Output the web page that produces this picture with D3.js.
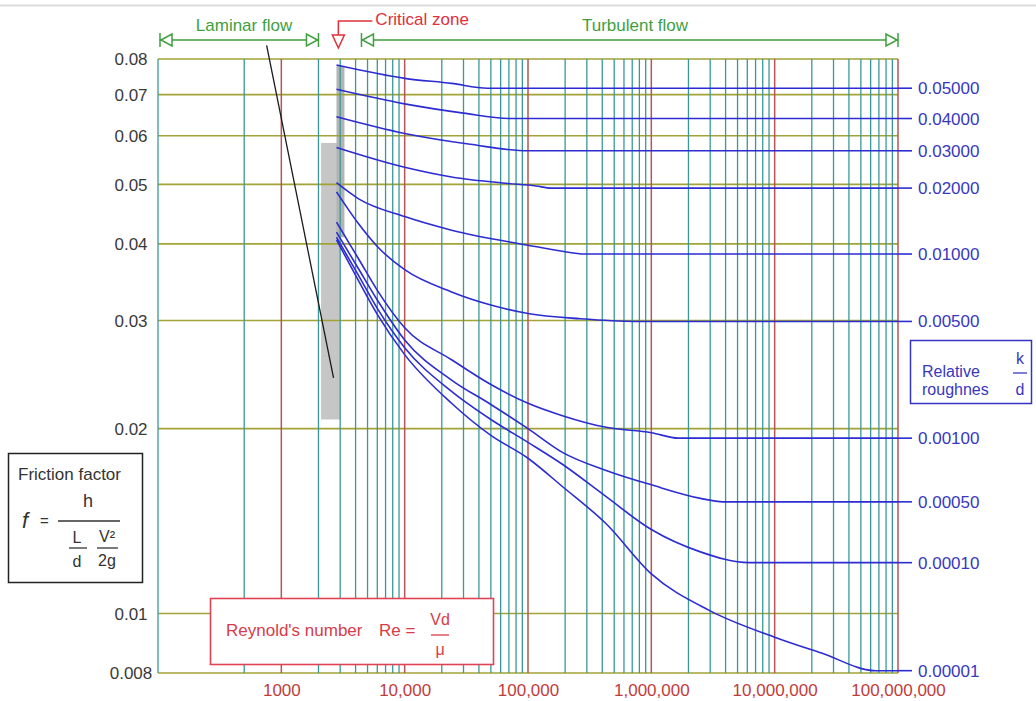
<!DOCTYPE html>
<html><head><meta charset="utf-8">
<script src="https://cdn.jsdelivr.net/npm/d3@7"></script>
<style>
body{margin:0;background:#fff;}
svg{display:block;font-family:"Liberation Sans",Arial,sans-serif;}
</style>
</head><body>
<svg id="chart" width="1036" height="701"></svg>
<script>
// ---------------- DATA ----------------
const xTickValues = [1000, 10000, 100000, 1000000, 10000000, 100000000];
const xTickLabels = ["1000", "10,000", "100,000", "1,000,000", "10,000,000", "100,000,000"];
const yTickValues = [0.008, 0.01, 0.02, 0.03, 0.04, 0.05, 0.06, 0.07, 0.08];
const yTickLabels = ["0.008", "0.01", "0.02", "0.03", "0.04", "0.05", "0.06", "0.07", "0.08"];
const gridDecades = [1000, 10000, 100000, 1000000, 10000000, 100000000];
const gridMultipliers = [2, 3, 4, 5, 6, 7, 8, 9];
const gridExtra = [500];

const roughnessLabels = ["0.05000","0.04000","0.03000","0.02000","0.01000","0.00500","0.00100","0.00050","0.00010","0.00001"];

const re_05 = [2800, 10000, 24000, 47000, 1e8];
const f_05  = [0.0782, 0.0744, 0.0730, 0.0717, 0.0717];
const re_04 = [2800, 10000, 30000, 70000, 1e8];
const f_04  = [0.0714, 0.0676, 0.0653, 0.0640, 0.0640];
const re_03 = [2800, 10000, 34000, 100000, 1e8];
const f_03  = [0.0644, 0.0605, 0.0581, 0.0567, 0.0567];
const re_02 = [2800, 10000, 24000, 66000, 116000, 154000, 1e8];
const f_02  = [0.0574, 0.0533, 0.0514, 0.0502, 0.0497, 0.0493, 0.0493];
const re_01 = [2800, 4200, 10000, 24000, 100000, 190000, 285000, 1e8];
const f_01  = [0.0503, 0.0474, 0.0443, 0.0421, 0.0398, 0.0389, 0.0385, 0.0385];
const re_005 = [2800, 4200, 6000, 10000, 24000, 50000, 100000, 267000, 730000, 1e8];
const f_005  = [0.0486, 0.0432, 0.0396, 0.0363, 0.0334, 0.0318, 0.0308, 0.0302, 0.0299, 0.0299];
const re_001 = [2800, 4200, 6000, 10000, 24000, 50000, 100000, 190000, 430000, 1000000, 1660000, 1e8];
const f_001  = [0.0434, 0.0379, 0.0336, 0.0292, 0.0259, 0.0236, 0.0220, 0.0210, 0.0201, 0.0197, 0.0193, 0.0193];
const re_0005 = [2800, 4200, 6000, 10000, 24000, 50000, 100000, 190000, 430000, 1000000, 2500000, 3800000, 1e8];
const f_0005  = [0.0418, 0.0365, 0.0324, 0.0279, 0.0240, 0.0219, 0.0200, 0.0183, 0.0171, 0.0162, 0.0154, 0.0152, 0.0152];
const re_0001 = [2800, 4200, 6000, 10000, 24000, 50000, 100000, 190000, 430000, 1000000, 2500000, 6200000, 1e8];
const f_0001  = [0.0410, 0.0356, 0.0314, 0.0271, 0.0230, 0.0207, 0.0190, 0.0175, 0.0155, 0.0137, 0.0126, 0.0121, 0.0121];
const re_00001 = [2800, 4200, 6000, 10000, 24000, 50000, 100000, 190000, 430000, 1000000, 3000000, 10000000, 24000000, 66000000, 1e8];
const f_00001  = [0.0406, 0.0349, 0.0307, 0.0264, 0.0220, 0.0195, 0.0179, 0.0161, 0.0140, 0.0116, 0.0101, 0.00915, 0.00862, 0.00807, 0.00807];

const laminarRe = [760, 2650];
const laminarF  = [0.0842, 0.0242];

const critZoneRe = [2100, 3000];
const critZoneF  = [0.0207, 0.0584];
const critStripRe = [2800, 3250];
const critStripF  = [0.041, 0.078];

const laminarArrowRe = [100, 2000];
const turbulentArrowRe = [4300, 1e8];
const criticalMarkRe = 2900;

// ---------------- SCALES ----------------
const svg = d3.select("#chart");
const x = d3.scaleLog().domain([100, 1e8]).range([158, 898]);
const y = d3.scaleLog().domain([0.008, 0.08]).range([673, 59]);

const curves = [
  [re_05, f_05], [re_04, f_04], [re_03, f_03], [re_02, f_02], [re_01, f_01],
  [re_005, f_005], [re_001, f_001], [re_0005, f_0005], [re_0001, f_0001], [re_00001, f_00001]
].map((c, i) => ({label: roughnessLabels[i], pts: c[0].map((r, j) => [r, c[1][j]])}));

svg.append("rect").attr("width", 1036).attr("height", 701).attr("fill", "#fff");
svg.append("line").attr("x1", 0).attr("x2", 1036).attr("y1", 5.5).attr("y2", 5.5)
  .attr("stroke", "#dcdcdc").attr("stroke-width", 2);

// critical zone shading
svg.append("rect")
  .attr("x", x(critZoneRe[0])).attr("width", x(critZoneRe[1]) - x(critZoneRe[0]))
  .attr("y", y(critZoneF[1])).attr("height", y(critZoneF[0]) - y(critZoneF[1]))
  .attr("fill", "#c6c6c6");
svg.append("rect")
  .attr("x", x(critStripRe[0])).attr("width", x(critStripRe[1]) - x(critStripRe[0]))
  .attr("y", y(critStripF[1])).attr("height", y(critStripF[0]) - y(critStripF[1]))
  .attr("fill", "#b4b4b4");

// horizontal grid
svg.append("g").selectAll("line").data(yTickValues).join("line")
  .attr("x1", x(100)).attr("x2", x(1e8))
  .attr("y1", d => y(d)).attr("y2", d => y(d))
  .attr("stroke", "#a2a236").attr("stroke-width", 1.6);

// vertical grid
const minorRe = [];
gridExtra.forEach(v => minorRe.push(v));
gridDecades.slice(0, 5).forEach(d => gridMultipliers.forEach(m => minorRe.push(d * m)));
minorRe.push(100);
svg.append("g").selectAll("line").data(minorRe).join("line")
  .attr("x1", d => x(d)).attr("x2", d => x(d))
  .attr("y1", y(0.08)).attr("y2", y(0.008))
  .attr("stroke", "#3b9898").attr("stroke-width", 1.3);
svg.append("g").selectAll("line").data(gridDecades).join("line")
  .attr("x1", d => x(d)).attr("x2", d => x(d))
  .attr("y1", y(0.08)).attr("y2", y(0.008))
  .attr("stroke", "#b85454").attr("stroke-width", 1.5);

// laminar line
svg.append("line")
  .attr("x1", x(laminarRe[0])).attr("y1", y(laminarF[0]))
  .attr("x2", x(laminarRe[1])).attr("y2", y(laminarF[1]))
  .attr("stroke", "#1a1a1a").attr("stroke-width", 1.3);

// curves
const line = d3.line().x(d => x(d[0])).y(d => y(d[1])).curve(d3.curveMonotoneX);
svg.append("g").selectAll("path").data(curves).join("path")
  .attr("d", d => line(d.pts))
  .attr("fill", "none").attr("stroke", "#2c2cd2").attr("stroke-width", 1.6);

// leaders + right labels
const rl = svg.append("g");
curves.forEach(c => {
  const last = c.pts[c.pts.length - 1];
  rl.append("line").attr("x1", x(last[0])).attr("x2", x(last[0]) + 14)
    .attr("y1", y(last[1])).attr("y2", y(last[1]))
    .attr("stroke", "#2c2cd2").attr("stroke-width", 1.6);
  rl.append("text").attr("x", x(last[0]) + 20).attr("y", y(last[1]) + 6)
    .attr("font-size", 17).attr("fill", "#3838c0").text(c.label);
});

// axes
const yAxis = d3.axisLeft(y).tickValues(yTickValues).tickFormat((d, i) => yTickLabels[i]).tickSize(0);
const gy = svg.append("g").attr("transform", `translate(${x(100)},0)`).call(yAxis);
gy.select(".domain").remove();
gy.selectAll("text").attr("x", -27).attr("dy", "0.35em").attr("text-anchor", "middle")
  .attr("font-size", 17).attr("fill", "#3a3a3a").attr("font-family", "Liberation Sans, Arial, sans-serif");

const xAxis = d3.axisBottom(x).tickValues(xTickValues).tickFormat((d, i) => xTickLabels[i]).tickSize(0);
const gx = svg.append("g").attr("transform", `translate(0,${y(0.008)})`).call(xAxis);
gx.select(".domain").remove();
gx.selectAll("text").attr("y", 23).attr("dy", 0).attr("font-size", 17).attr("fill", "#c03c3c")
  .attr("font-family", "Liberation Sans, Arial, sans-serif");

// Friction factor box
const fb = svg.append("g");
fb.append("rect").attr("x", 8.5).attr("y", 453.5).attr("width", 134).attr("height", 129)
  .attr("fill", "#fff").attr("stroke", "#222").attr("stroke-width", 1.5);
fb.append("text").attr("x", 18).attr("y", 480).attr("font-size", 17).attr("fill", "#333").text("Friction factor");
fb.append("text").attr("x", 22).attr("y", 528).attr("font-size", 22).attr("font-style", "italic").attr("fill", "#333").text("f");
fb.append("text").attr("x", 40).attr("y", 526).attr("font-size", 15).attr("fill", "#333").text("=");
fb.append("text").attr("x", 88).attr("y", 507).attr("font-size", 18).attr("text-anchor", "middle").attr("fill", "#333").text("h");
fb.append("line").attr("x1", 58).attr("x2", 120).attr("y1", 521).attr("y2", 521).attr("stroke", "#333").attr("stroke-width", 1.3);
fb.append("text").attr("x", 77).attr("y", 543).attr("font-size", 16).attr("text-anchor", "middle").attr("fill", "#333").text("L");
fb.append("line").attr("x1", 69).attr("x2", 87).attr("y1", 548).attr("y2", 548).attr("stroke", "#333").attr("stroke-width", 1.3);
fb.append("text").attr("x", 77).attr("y", 567).attr("font-size", 16).attr("text-anchor", "middle").attr("fill", "#333").text("d");
fb.append("text").attr("x", 107).attr("y", 542).attr("font-size", 16).attr("text-anchor", "middle").attr("fill", "#333").text("V²");
fb.append("line").attr("x1", 97).attr("x2", 118).attr("y1", 548).attr("y2", 548).attr("stroke", "#333").attr("stroke-width", 1.3);
fb.append("text").attr("x", 107).attr("y", 566).attr("font-size", 16).attr("text-anchor", "middle").attr("fill", "#333").text("2g");

// Relative roughness box
const rb = svg.append("g");
rb.append("rect").attr("x", 910.5).attr("y", 340.5).attr("width", 121).attr("height", 63)
  .attr("fill", "#fff").attr("stroke", "#3434c4").attr("stroke-width", 1.5);
rb.append("text").attr("x", 922).attr("y", 377).attr("font-size", 16).attr("fill", "#3838c0").text("Relative");
rb.append("text").attr("x", 922).attr("y", 395).attr("font-size", 16).attr("fill", "#3838c0").text("roughnes");
rb.append("text").attr("x", 1020).attr("y", 364).attr("font-size", 16).attr("text-anchor", "middle").attr("fill", "#3838c0").text("k");
rb.append("line").attr("x1", 1013).attr("x2", 1027).attr("y1", 373).attr("y2", 373).attr("stroke", "#3838c0").attr("stroke-width", 1.3);
rb.append("text").attr("x", 1020).attr("y", 395).attr("font-size", 16).attr("text-anchor", "middle").attr("fill", "#3838c0").text("d");

// Reynolds box
const rey = svg.append("g");
rey.append("rect").attr("x", 210.5).attr("y", 598.5).attr("width", 283).attr("height", 66)
  .attr("fill", "#fff").attr("stroke", "#e04454").attr("stroke-width", 1.6);
rey.append("text").attr("x", 226).attr("y", 636).attr("font-size", 17).attr("fill", "#d83c48").text("Reynold's number");
rey.append("text").attr("x", 379).attr("y", 636).attr("font-size", 17).attr("fill", "#d83c48").text("Re =");
rey.append("text").attr("x", 440).attr("y", 625).attr("font-size", 16).attr("text-anchor", "middle").attr("fill", "#d83c48").text("Vd");
rey.append("line").attr("x1", 431).attr("x2", 449).attr("y1", 635).attr("y2", 635).attr("stroke", "#d83c48").attr("stroke-width", 1.3);
rey.append("text").attr("x", 440).attr("y", 655).attr("font-size", 16).attr("text-anchor", "middle").attr("fill", "#d83c48").text("μ");

// top annotations
const green = "#3f9f3f";
function flowArrow(r0, r1, label, labelX) {
  const g = svg.append("g").attr("stroke", green).attr("stroke-width", 1.5).attr("fill", "#fff");
  const x0 = x(r0) + 2, x1 = x(r1);
  const yy = 40;
  g.append("line").attr("x1", x0).attr("x2", x1).attr("y1", yy).attr("y2", yy);
  g.append("line").attr("x1", x0).attr("x2", x0).attr("y1", yy - 7).attr("y2", yy + 7);
  g.append("path").attr("d", `M${x0 + 1},${yy} L${x0 + 12},${yy - 6} L${x0 + 12},${yy + 6} Z`);
  g.append("line").attr("x1", x1).attr("x2", x1).attr("y1", yy - 7).attr("y2", yy + 7);
  g.append("path").attr("d", `M${x1 - 1},${yy} L${x1 - 12},${yy - 6} L${x1 - 12},${yy + 6} Z`);
  svg.append("text").attr("x", labelX).attr("y", 31).attr("font-size", 17).attr("text-anchor", "middle")
    .attr("fill", green).text(label);
}
flowArrow(laminarArrowRe[0], laminarArrowRe[1], "Laminar flow", 244);
flowArrow(turbulentArrowRe[0], turbulentArrowRe[1], "Turbulent flow", 635);

const red = "#e0303c";
const cx = x(criticalMarkRe);
const cg = svg.append("g").attr("stroke", red).attr("stroke-width", 1.5).attr("fill", "#fff");
cg.append("path").attr("d", `M${cx + 34},21 L${cx},21 L${cx},35`).attr("fill", "none");
cg.append("path").attr("d", `M${cx - 6},35 L${cx + 6},35 L${cx},48 Z`);
svg.append("text").attr("x", cx + 37).attr("y", 25).attr("font-size", 17).attr("fill", red).text("Critical zone");
</script>
</body></html>
